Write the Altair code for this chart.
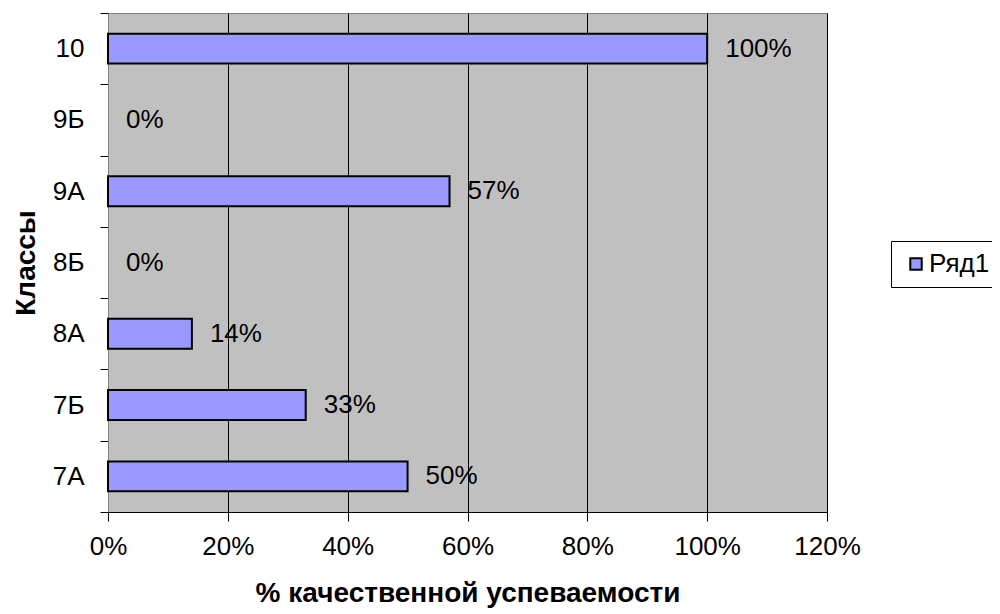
import altair as alt
import pandas as pd

classes = ["10", "9Б", "9А", "8Б", "8А", "7Б", "7А"]
values = [1.00, 0.00, 0.57, 0.00, 0.14, 0.33, 0.50]
series = ["Ряд1"] * len(classes)
x_ticks = [0, 0.2, 0.4, 0.6, 0.8, 1.0, 1.2]

df = pd.DataFrame({"cls": classes, "val": values, "series": series})

FONT = "Liberation Sans"

y_enc = alt.Y(
    "cls:N",
    sort=classes,
    title="Классы",
    scale=alt.Scale(paddingInner=0, paddingOuter=0),
    axis=alt.Axis(
        tickBand="extent",
        tickSize=8,
        tickColor="#000000",
        domainColor="#808080",
        labelPadding=16,
        labelFontSize=26,
        labelColor="#000000",
        titleFontSize=28,
        titleFontWeight="bold",
        titleColor="#000000",
        titlePadding=12,
        grid=False,
    ),
)
x_enc = alt.X(
    "val:Q",
    title="% качественной успеваемости",
    scale=alt.Scale(domain=[0, 1.2], nice=False, zero=True),
    axis=alt.Axis(
        values=x_ticks,
        format=".0%",
        tickSize=9,
        tickColor="#000000",
        domainColor="#000000",
        grid=True,
        gridColor="#000000",
        gridOpacity=1,
        gridWidth=1,
        labelPadding=12,
        labelFontSize=26,
        labelColor="#000000",
        labelFlush=False,
        titleFontSize=28,
        titleFontWeight="bold",
        titleColor="#000000",
        titlePadding=20,
    ),
)

bars = alt.Chart(df).mark_bar(height={"band": 0.42}, strokeWidth=2).encode(
    x=x_enc,
    y=y_enc,
    stroke=alt.condition(alt.datum.val > 0, alt.value("#000000"), alt.value("transparent")),
    color=alt.Color(
        "series:N",
        scale=alt.Scale(range=["#9999FF"]),
        legend=alt.Legend(
            title=None,
            orient="none",
            legendX=783,
            legendY=228,
            symbolType="square",
            symbolSize=130,
            symbolStrokeColor="#000000",
            symbolStrokeWidth=2,
            symbolOffset=2,
            labelFontSize=26,
            labelColor="#000000",
            labelOffset=0,
            padding=10,
            strokeColor="#000000",
            fillColor="#FFFFFF",
        ),
    ),
)

labels = alt.Chart(df).mark_text(
    align="left", baseline="middle", dx=18, fontSize=26, color="#000000", font=FONT
).encode(
    x=alt.X("val:Q"),
    y=alt.Y("cls:N", sort=classes),
    text=alt.Text("val:Q", format=".0%"),
)

chart = (
    alt.layer(bars, labels)
    .properties(
        width=719,
        height=499,
        autosize=alt.AutoSizeParams(type="none"),
        padding={"left": 100, "top": 5, "right": 165, "bottom": 100},
    )
    .configure(font=FONT)
    .configure_view(fill="#C0C0C0", stroke="#808080", strokeWidth=1)
    .configure_axis(labelFont=FONT, titleFont=FONT)
    .configure_legend(labelFont=FONT)
)

chart.save("out.html", embed_options={"renderer": "svg", "actions": False})
